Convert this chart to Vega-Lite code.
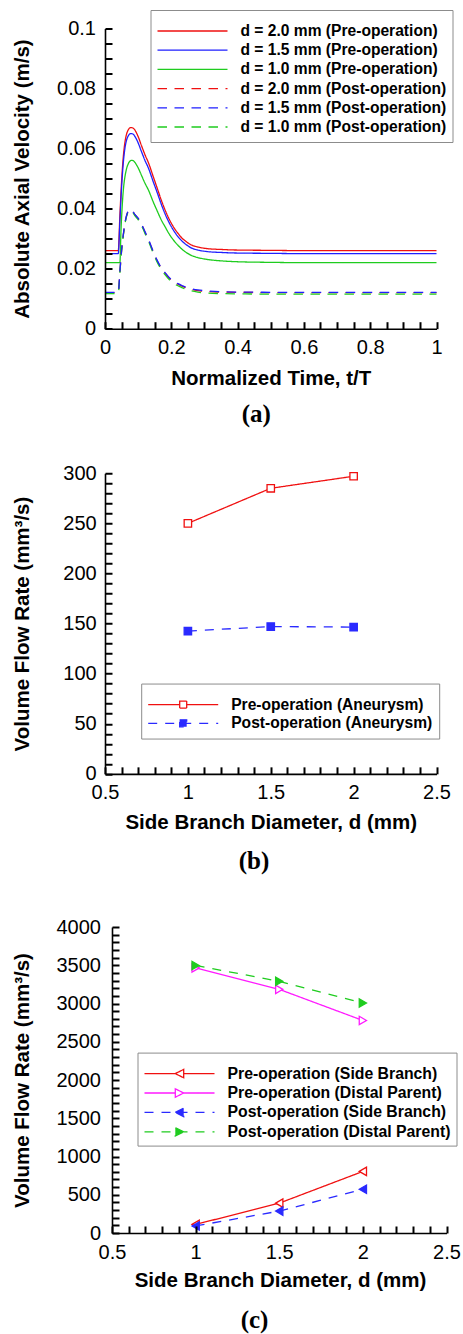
{
"$schema": "https://vega.github.io/schema/vega-lite/v6.json",
"padding": {"left": 12, "top": 9.5, "right": 0, "bottom": 0},
"spacing": 36.75,
"resolve": {"scale": {"stroke": "independent", "strokeDash": "independent", "shape": "independent", "fill": "independent"}, "legend": {"stroke": "independent", "strokeDash": "independent", "shape": "independent", "fill": "independent"}},
"config": {
 "view": {"stroke": null},
 "axis": {"domainColor": "black", "domainWidth": 1.6, "labelFont": "Liberation Sans", "labelFontSize": 20, "labelColor": "black", "titleFont": "Liberation Sans", "titleFontSize": 20.5, "titleFontWeight": "bold", "titleColor": "black", "grid": false, "labelFlush": false, "labelOverlap": false},
 "legend": {"orient": "none", "labelFont": "Liberation Sans", "labelFontWeight": "bold", "labelColor": "black", "strokeColor": "#8c8c8c", "fillColor": "white", "padding": 6, "symbolSize": 4900, "symbolStrokeWidth": 1.3, "labelOffset": 12, "clipHeight": 12, "titleFontSize": 4, "titlePadding": 5, "labelLimit": 500},
 "title": {"font": "Liberation Serif", "fontSize": 25, "fontWeight": "bold", "color": "black", "orient": "bottom", "frame": "group", "anchor": "middle"}
},
"vconcat": [
{
 "width": 331.5, "height": 300.2,
 "title": {"text": "(a)", "dx": -14.5, "offset": 12.5},
 "data": {"values": [
{"t":0,"v":0.026,"s":"d = 2.0 mm (Pre-operation)"},{"t":0.04,"v":0.026,"s":"d = 2.0 mm (Pre-operation)"},{"t":0.045,"v":0.038,"s":"d = 2.0 mm (Pre-operation)"},{"t":0.05,"v":0.049,"s":"d = 2.0 mm (Pre-operation)"},{"t":0.055,"v":0.057,"s":"d = 2.0 mm (Pre-operation)"},{"t":0.06,"v":0.062,"s":"d = 2.0 mm (Pre-operation)"},{"t":0.065,"v":0.0648,"s":"d = 2.0 mm (Pre-operation)"},{"t":0.07,"v":0.0662,"s":"d = 2.0 mm (Pre-operation)"},{"t":0.075,"v":0.0669,"s":"d = 2.0 mm (Pre-operation)"},{"t":0.08,"v":0.067,"s":"d = 2.0 mm (Pre-operation)"},{"t":0.085,"v":0.0668,"s":"d = 2.0 mm (Pre-operation)"},{"t":0.09,"v":0.0662,"s":"d = 2.0 mm (Pre-operation)"},{"t":0.1,"v":0.064,"s":"d = 2.0 mm (Pre-operation)"},{"t":0.11,"v":0.061,"s":"d = 2.0 mm (Pre-operation)"},{"t":0.12,"v":0.0581,"s":"d = 2.0 mm (Pre-operation)"},{"t":0.131,"v":0.0553,"s":"d = 2.0 mm (Pre-operation)"},{"t":0.146,"v":0.0505,"s":"d = 2.0 mm (Pre-operation)"},{"t":0.156,"v":0.0473,"s":"d = 2.0 mm (Pre-operation)"},{"t":0.17,"v":0.0428,"s":"d = 2.0 mm (Pre-operation)"},{"t":0.181,"v":0.0396,"s":"d = 2.0 mm (Pre-operation)"},{"t":0.195,"v":0.0362,"s":"d = 2.0 mm (Pre-operation)"},{"t":0.206,"v":0.034,"s":"d = 2.0 mm (Pre-operation)"},{"t":0.22,"v":0.0318,"s":"d = 2.0 mm (Pre-operation)"},{"t":0.232,"v":0.0302,"s":"d = 2.0 mm (Pre-operation)"},{"t":0.245,"v":0.029,"s":"d = 2.0 mm (Pre-operation)"},{"t":0.257,"v":0.0281,"s":"d = 2.0 mm (Pre-operation)"},{"t":0.28,"v":0.0272,"s":"d = 2.0 mm (Pre-operation)"},{"t":0.307,"v":0.0267,"s":"d = 2.0 mm (Pre-operation)"},{"t":0.35,"v":0.0264,"s":"d = 2.0 mm (Pre-operation)"},{"t":0.4,"v":0.0262,"s":"d = 2.0 mm (Pre-operation)"},{"t":0.5,"v":0.0261,"s":"d = 2.0 mm (Pre-operation)"},{"t":0.6,"v":0.026,"s":"d = 2.0 mm (Pre-operation)"},{"t":0.8,"v":0.026,"s":"d = 2.0 mm (Pre-operation)"},{"t":1,"v":0.026,"s":"d = 2.0 mm (Pre-operation)"},
{"t":0,"v":0.025,"s":"d = 1.5 mm (Pre-operation)"},{"t":0.04,"v":0.025,"s":"d = 1.5 mm (Pre-operation)"},{"t":0.045,"v":0.036,"s":"d = 1.5 mm (Pre-operation)"},{"t":0.05,"v":0.047,"s":"d = 1.5 mm (Pre-operation)"},{"t":0.055,"v":0.055,"s":"d = 1.5 mm (Pre-operation)"},{"t":0.06,"v":0.06,"s":"d = 1.5 mm (Pre-operation)"},{"t":0.065,"v":0.0628,"s":"d = 1.5 mm (Pre-operation)"},{"t":0.07,"v":0.0642,"s":"d = 1.5 mm (Pre-operation)"},{"t":0.075,"v":0.0649,"s":"d = 1.5 mm (Pre-operation)"},{"t":0.08,"v":0.065,"s":"d = 1.5 mm (Pre-operation)"},{"t":0.085,"v":0.0648,"s":"d = 1.5 mm (Pre-operation)"},{"t":0.09,"v":0.0641,"s":"d = 1.5 mm (Pre-operation)"},{"t":0.1,"v":0.0619,"s":"d = 1.5 mm (Pre-operation)"},{"t":0.11,"v":0.059,"s":"d = 1.5 mm (Pre-operation)"},{"t":0.12,"v":0.0562,"s":"d = 1.5 mm (Pre-operation)"},{"t":0.131,"v":0.0535,"s":"d = 1.5 mm (Pre-operation)"},{"t":0.146,"v":0.0488,"s":"d = 1.5 mm (Pre-operation)"},{"t":0.156,"v":0.0458,"s":"d = 1.5 mm (Pre-operation)"},{"t":0.17,"v":0.0414,"s":"d = 1.5 mm (Pre-operation)"},{"t":0.181,"v":0.0383,"s":"d = 1.5 mm (Pre-operation)"},{"t":0.195,"v":0.035,"s":"d = 1.5 mm (Pre-operation)"},{"t":0.206,"v":0.0329,"s":"d = 1.5 mm (Pre-operation)"},{"t":0.22,"v":0.0307,"s":"d = 1.5 mm (Pre-operation)"},{"t":0.232,"v":0.0292,"s":"d = 1.5 mm (Pre-operation)"},{"t":0.245,"v":0.028,"s":"d = 1.5 mm (Pre-operation)"},{"t":0.257,"v":0.0271,"s":"d = 1.5 mm (Pre-operation)"},{"t":0.28,"v":0.0262,"s":"d = 1.5 mm (Pre-operation)"},{"t":0.307,"v":0.0257,"s":"d = 1.5 mm (Pre-operation)"},{"t":0.35,"v":0.0254,"s":"d = 1.5 mm (Pre-operation)"},{"t":0.4,"v":0.0252,"s":"d = 1.5 mm (Pre-operation)"},{"t":0.5,"v":0.0251,"s":"d = 1.5 mm (Pre-operation)"},{"t":0.6,"v":0.025,"s":"d = 1.5 mm (Pre-operation)"},{"t":0.8,"v":0.025,"s":"d = 1.5 mm (Pre-operation)"},{"t":1,"v":0.025,"s":"d = 1.5 mm (Pre-operation)"},
{"t":0,"v":0.022,"s":"d = 1.0 mm (Pre-operation)"},{"t":0.045,"v":0.022,"s":"d = 1.0 mm (Pre-operation)"},{"t":0.048,"v":0.032,"s":"d = 1.0 mm (Pre-operation)"},{"t":0.052,"v":0.041,"s":"d = 1.0 mm (Pre-operation)"},{"t":0.056,"v":0.047,"s":"d = 1.0 mm (Pre-operation)"},{"t":0.06,"v":0.0505,"s":"d = 1.0 mm (Pre-operation)"},{"t":0.065,"v":0.0533,"s":"d = 1.0 mm (Pre-operation)"},{"t":0.07,"v":0.0549,"s":"d = 1.0 mm (Pre-operation)"},{"t":0.075,"v":0.0558,"s":"d = 1.0 mm (Pre-operation)"},{"t":0.08,"v":0.0561,"s":"d = 1.0 mm (Pre-operation)"},{"t":0.085,"v":0.056,"s":"d = 1.0 mm (Pre-operation)"},{"t":0.09,"v":0.0554,"s":"d = 1.0 mm (Pre-operation)"},{"t":0.1,"v":0.0536,"s":"d = 1.0 mm (Pre-operation)"},{"t":0.11,"v":0.0511,"s":"d = 1.0 mm (Pre-operation)"},{"t":0.12,"v":0.0486,"s":"d = 1.0 mm (Pre-operation)"},{"t":0.131,"v":0.0462,"s":"d = 1.0 mm (Pre-operation)"},{"t":0.146,"v":0.0421,"s":"d = 1.0 mm (Pre-operation)"},{"t":0.156,"v":0.0396,"s":"d = 1.0 mm (Pre-operation)"},{"t":0.17,"v":0.0362,"s":"d = 1.0 mm (Pre-operation)"},{"t":0.181,"v":0.034,"s":"d = 1.0 mm (Pre-operation)"},{"t":0.195,"v":0.0313,"s":"d = 1.0 mm (Pre-operation)"},{"t":0.206,"v":0.0296,"s":"d = 1.0 mm (Pre-operation)"},{"t":0.22,"v":0.0278,"s":"d = 1.0 mm (Pre-operation)"},{"t":0.232,"v":0.0265,"s":"d = 1.0 mm (Pre-operation)"},{"t":0.245,"v":0.0254,"s":"d = 1.0 mm (Pre-operation)"},{"t":0.257,"v":0.0246,"s":"d = 1.0 mm (Pre-operation)"},{"t":0.28,"v":0.0237,"s":"d = 1.0 mm (Pre-operation)"},{"t":0.307,"v":0.0231,"s":"d = 1.0 mm (Pre-operation)"},{"t":0.35,"v":0.0226,"s":"d = 1.0 mm (Pre-operation)"},{"t":0.4,"v":0.0223,"s":"d = 1.0 mm (Pre-operation)"},{"t":0.5,"v":0.0221,"s":"d = 1.0 mm (Pre-operation)"},{"t":0.6,"v":0.022,"s":"d = 1.0 mm (Pre-operation)"},{"t":0.8,"v":0.022,"s":"d = 1.0 mm (Pre-operation)"},{"t":1,"v":0.022,"s":"d = 1.0 mm (Pre-operation)"},
{"t":0,"v":0.012,"s":"d = 2.0 mm (Post-operation)"},{"t":0.04,"v":0.012,"s":"d = 2.0 mm (Post-operation)"},{"t":0.045,"v":0.019,"s":"d = 2.0 mm (Post-operation)"},{"t":0.05,"v":0.026,"s":"d = 2.0 mm (Post-operation)"},{"t":0.055,"v":0.031,"s":"d = 2.0 mm (Post-operation)"},{"t":0.06,"v":0.035,"s":"d = 2.0 mm (Post-operation)"},{"t":0.065,"v":0.0376,"s":"d = 2.0 mm (Post-operation)"},{"t":0.07,"v":0.0391,"s":"d = 2.0 mm (Post-operation)"},{"t":0.075,"v":0.0396,"s":"d = 2.0 mm (Post-operation)"},{"t":0.08,"v":0.0394,"s":"d = 2.0 mm (Post-operation)"},{"t":0.085,"v":0.0388,"s":"d = 2.0 mm (Post-operation)"},{"t":0.09,"v":0.038,"s":"d = 2.0 mm (Post-operation)"},{"t":0.1,"v":0.0367,"s":"d = 2.0 mm (Post-operation)"},{"t":0.106,"v":0.0357,"s":"d = 2.0 mm (Post-operation)"},{"t":0.115,"v":0.0336,"s":"d = 2.0 mm (Post-operation)"},{"t":0.122,"v":0.0318,"s":"d = 2.0 mm (Post-operation)"},{"t":0.131,"v":0.0296,"s":"d = 2.0 mm (Post-operation)"},{"t":0.146,"v":0.0254,"s":"d = 2.0 mm (Post-operation)"},{"t":0.156,"v":0.0229,"s":"d = 2.0 mm (Post-operation)"},{"t":0.17,"v":0.0201,"s":"d = 2.0 mm (Post-operation)"},{"t":0.181,"v":0.0185,"s":"d = 2.0 mm (Post-operation)"},{"t":0.195,"v":0.0167,"s":"d = 2.0 mm (Post-operation)"},{"t":0.206,"v":0.0157,"s":"d = 2.0 mm (Post-operation)"},{"t":0.22,"v":0.0148,"s":"d = 2.0 mm (Post-operation)"},{"t":0.232,"v":0.0142,"s":"d = 2.0 mm (Post-operation)"},{"t":0.245,"v":0.0136,"s":"d = 2.0 mm (Post-operation)"},{"t":0.257,"v":0.0132,"s":"d = 2.0 mm (Post-operation)"},{"t":0.28,"v":0.0127,"s":"d = 2.0 mm (Post-operation)"},{"t":0.307,"v":0.0124,"s":"d = 2.0 mm (Post-operation)"},{"t":0.35,"v":0.0122,"s":"d = 2.0 mm (Post-operation)"},{"t":0.4,"v":0.0121,"s":"d = 2.0 mm (Post-operation)"},{"t":0.6,"v":0.012,"s":"d = 2.0 mm (Post-operation)"},{"t":1,"v":0.012,"s":"d = 2.0 mm (Post-operation)"},
{"t":0,"v":0.0117,"s":"d = 1.0 mm (Post-operation)"},{"t":0.04,"v":0.0117,"s":"d = 1.0 mm (Post-operation)"},{"t":0.045,"v":0.0188,"s":"d = 1.0 mm (Post-operation)"},{"t":0.05,"v":0.0258,"s":"d = 1.0 mm (Post-operation)"},{"t":0.055,"v":0.0308,"s":"d = 1.0 mm (Post-operation)"},{"t":0.06,"v":0.0348,"s":"d = 1.0 mm (Post-operation)"},{"t":0.065,"v":0.0374,"s":"d = 1.0 mm (Post-operation)"},{"t":0.07,"v":0.0389,"s":"d = 1.0 mm (Post-operation)"},{"t":0.075,"v":0.0394,"s":"d = 1.0 mm (Post-operation)"},{"t":0.08,"v":0.0392,"s":"d = 1.0 mm (Post-operation)"},{"t":0.085,"v":0.0386,"s":"d = 1.0 mm (Post-operation)"},{"t":0.09,"v":0.0377,"s":"d = 1.0 mm (Post-operation)"},{"t":0.1,"v":0.0363,"s":"d = 1.0 mm (Post-operation)"},{"t":0.106,"v":0.0353,"s":"d = 1.0 mm (Post-operation)"},{"t":0.115,"v":0.0332,"s":"d = 1.0 mm (Post-operation)"},{"t":0.122,"v":0.0314,"s":"d = 1.0 mm (Post-operation)"},{"t":0.131,"v":0.0292,"s":"d = 1.0 mm (Post-operation)"},{"t":0.146,"v":0.025,"s":"d = 1.0 mm (Post-operation)"},{"t":0.156,"v":0.0225,"s":"d = 1.0 mm (Post-operation)"},{"t":0.17,"v":0.0197,"s":"d = 1.0 mm (Post-operation)"},{"t":0.181,"v":0.018,"s":"d = 1.0 mm (Post-operation)"},{"t":0.195,"v":0.0162,"s":"d = 1.0 mm (Post-operation)"},{"t":0.206,"v":0.0152,"s":"d = 1.0 mm (Post-operation)"},{"t":0.22,"v":0.0143,"s":"d = 1.0 mm (Post-operation)"},{"t":0.232,"v":0.0137,"s":"d = 1.0 mm (Post-operation)"},{"t":0.245,"v":0.0131,"s":"d = 1.0 mm (Post-operation)"},{"t":0.257,"v":0.0127,"s":"d = 1.0 mm (Post-operation)"},{"t":0.28,"v":0.0122,"s":"d = 1.0 mm (Post-operation)"},{"t":0.307,"v":0.0119,"s":"d = 1.0 mm (Post-operation)"},{"t":0.35,"v":0.0117,"s":"d = 1.0 mm (Post-operation)"},{"t":0.4,"v":0.0116,"s":"d = 1.0 mm (Post-operation)"},{"t":0.6,"v":0.0115,"s":"d = 1.0 mm (Post-operation)"},{"t":1,"v":0.0115,"s":"d = 1.0 mm (Post-operation)"},
{"t":0,"v":0.0121,"s":"d = 1.5 mm (Post-operation)"},{"t":0.04,"v":0.0121,"s":"d = 1.5 mm (Post-operation)"},{"t":0.045,"v":0.0192,"s":"d = 1.5 mm (Post-operation)"},{"t":0.05,"v":0.0262,"s":"d = 1.5 mm (Post-operation)"},{"t":0.055,"v":0.0312,"s":"d = 1.5 mm (Post-operation)"},{"t":0.06,"v":0.0351,"s":"d = 1.5 mm (Post-operation)"},{"t":0.065,"v":0.0377,"s":"d = 1.5 mm (Post-operation)"},{"t":0.07,"v":0.0392,"s":"d = 1.5 mm (Post-operation)"},{"t":0.075,"v":0.0397,"s":"d = 1.5 mm (Post-operation)"},{"t":0.08,"v":0.0395,"s":"d = 1.5 mm (Post-operation)"},{"t":0.085,"v":0.0389,"s":"d = 1.5 mm (Post-operation)"},{"t":0.09,"v":0.0381,"s":"d = 1.5 mm (Post-operation)"},{"t":0.1,"v":0.0368,"s":"d = 1.5 mm (Post-operation)"},{"t":0.106,"v":0.0358,"s":"d = 1.5 mm (Post-operation)"},{"t":0.115,"v":0.0337,"s":"d = 1.5 mm (Post-operation)"},{"t":0.122,"v":0.032,"s":"d = 1.5 mm (Post-operation)"},{"t":0.131,"v":0.0298,"s":"d = 1.5 mm (Post-operation)"},{"t":0.146,"v":0.0256,"s":"d = 1.5 mm (Post-operation)"},{"t":0.156,"v":0.0231,"s":"d = 1.5 mm (Post-operation)"},{"t":0.17,"v":0.0203,"s":"d = 1.5 mm (Post-operation)"},{"t":0.181,"v":0.0187,"s":"d = 1.5 mm (Post-operation)"},{"t":0.195,"v":0.0169,"s":"d = 1.5 mm (Post-operation)"},{"t":0.206,"v":0.0159,"s":"d = 1.5 mm (Post-operation)"},{"t":0.22,"v":0.015,"s":"d = 1.5 mm (Post-operation)"},{"t":0.232,"v":0.0144,"s":"d = 1.5 mm (Post-operation)"},{"t":0.245,"v":0.0138,"s":"d = 1.5 mm (Post-operation)"},{"t":0.257,"v":0.0134,"s":"d = 1.5 mm (Post-operation)"},{"t":0.28,"v":0.0129,"s":"d = 1.5 mm (Post-operation)"},{"t":0.307,"v":0.0126,"s":"d = 1.5 mm (Post-operation)"},{"t":0.35,"v":0.0123,"s":"d = 1.5 mm (Post-operation)"},{"t":0.4,"v":0.0122,"s":"d = 1.5 mm (Post-operation)"},{"t":0.6,"v":0.0121,"s":"d = 1.5 mm (Post-operation)"},{"t":1,"v":0.0121,"s":"d = 1.5 mm (Post-operation)"}
 ]},
 "mark": {"type": "line", "strokeWidth": 1.3, "interpolate": "monotone"},
 "encoding": {
  "x": {"field": "t", "type": "quantitative", "scale": {"domain": [0, 1], "nice": false, "zero": false},
   "axis": {"values": [0,0.05,0.1,0.15,0.2,0.25,0.3,0.35,0.4,0.45,0.5,0.55,0.6,0.65,0.7,0.75,0.8,0.85,0.9,0.95,1],
    "labelExpr": "abs(datum.value*5-round(datum.value*5))<0.001 ? format(datum.value,'~g') : ''",
    "ticks": true, "tickSize": -7, "tickColor": "#000000", "tickWidth": 2, "zindex": 1,
    "labelPadding": 16.1, "title": "Normalized Time, t/T", "titlePadding": 10.7}},
  "y": {"field": "v", "type": "quantitative", "scale": {"domain": [0, 0.1], "nice": false},
   "axis": {"values": [0,0.005,0.01,0.015,0.02,0.025,0.03,0.035,0.04,0.045,0.05,0.055,0.06,0.065,0.07,0.075,0.08,0.085,0.09,0.095,0.1],
    "labelExpr": "abs(datum.value*50-round(datum.value*50))<0.001 ? format(datum.value,'~g') : ''",
    "ticks": true, "tickSize": -7, "tickColor": "#000000", "tickWidth": 2, "zindex": 1,
    "labelPadding": 16.5, "title": "Absolute Axial Velocity (m/s)", "titleX": -92.5, "titleY": 150.1, "titleAngle": 270, "titleBaseline": "top", "titleAlign": "center"}},
  "stroke": {"field": "s", "type": "nominal",
   "scale": {"domain": ["d = 2.0 mm (Pre-operation)","d = 1.5 mm (Pre-operation)","d = 1.0 mm (Pre-operation)","d = 2.0 mm (Post-operation)","d = 1.5 mm (Post-operation)","d = 1.0 mm (Post-operation)"],
    "range": ["#f01010","#1f1fff","#1fcc1f","#f01010","#1f1fff","#1fcc1f"]},
   "legend": {"title": " ", "legendX": 45.5, "legendY": -18.5, "labelFontSize": 15.6, "rowPadding": 3.2, "symbolType": "stroke"}},
  "strokeDash": {"field": "s", "type": "nominal",
   "scale": {"domain": ["d = 2.0 mm (Pre-operation)","d = 1.5 mm (Pre-operation)","d = 1.0 mm (Pre-operation)","d = 2.0 mm (Post-operation)","d = 1.5 mm (Post-operation)","d = 1.0 mm (Post-operation)"],
    "range": [[1,0],[1,0],[1,0],[9.5,7.5],[9.5,7.5],[9.5,7.5]]},
   "legend": {"title": " ", "legendX": 45.5, "legendY": -18.5, "labelFontSize": 15.6, "rowPadding": 3.2, "symbolType": "stroke"}}
 }
},
{
 "width": 331.5, "height": 300.6,
 "title": {"text": "(b)", "dx": -16.75, "offset": 15.6, "subtitle": " ", "subtitleFontSize": 1, "subtitlePadding": 5},
 "data": {"values": [
  {"d": 1, "q": 250, "s": "Pre-operation (Aneurysm)"},
  {"d": 1.5, "q": 285, "s": "Pre-operation (Aneurysm)"},
  {"d": 2, "q": 297, "s": "Pre-operation (Aneurysm)"},
  {"d": 1, "q": 142.5, "s": "Post-operation (Aneurysm)"},
  {"d": 1.5, "q": 147, "s": "Post-operation (Aneurysm)"},
  {"d": 2, "q": 146.5, "s": "Post-operation (Aneurysm)"}
 ]},
 "encoding": {
  "x": {"field": "d", "type": "quantitative", "scale": {"domain": [0.5, 2.5], "nice": false, "zero": false},
   "axis": {"values": [0.5,0.6,0.7,0.8,0.9,1,1.1,1.2,1.3,1.4,1.5,1.6,1.7,1.8,1.9,2,2.1,2.2,2.3,2.4,2.5],
    "labelExpr": "abs(datum.value*2-round(datum.value*2))<0.001 ? format(datum.value,'~g') : ''",
    "ticks": true, "tickSize": -7, "tickColor": "#000000", "tickWidth": 2, "zindex": 1,
    "labelPadding": 15.5, "title": "Side Branch Diameter, d (mm)", "titlePadding": 10.6}},
  "y": {"field": "q", "type": "quantitative", "scale": {"domain": [0, 300], "nice": false},
   "axis": {"values": [0,10,20,30,40,50,60,70,80,90,100,110,120,130,140,150,160,170,180,190,200,210,220,230,240,250,260,270,280,290,300],
    "labelExpr": "datum.value % 50 == 0 ? format(datum.value,'~g') : ''",
    "ticks": true, "tickSize": -7, "tickColor": "#000000", "tickWidth": 2, "zindex": 1,
    "labelPadding": 15.8, "title": "Volume Flow Rate (mm³/s)", "titleX": -92.5, "titleY": 150.3, "titleAngle": 270, "titleBaseline": "top", "titleAlign": "center"}},
  "stroke": {"field": "s", "type": "nominal",
   "scale": {"domain": ["Pre-operation (Aneurysm)", "Post-operation (Aneurysm)"], "range": ["#f01010", "#2a2aff"]},
   "legend": {"title": " ", "legendX": 36.2, "legendY": 210.3, "labelFontSize": 15.6, "rowPadding": 2.8}}
 },
 "layer": [
  {"mark": {"type": "line", "strokeWidth": 1.3},
   "encoding": {"strokeDash": {"field": "s", "type": "nominal",
    "scale": {"domain": ["Pre-operation (Aneurysm)", "Post-operation (Aneurysm)"], "range": [[1,0],[9,8]]},
    "legend": {"title": " ", "legendX": 36.2, "legendY": 210.3, "labelFontSize": 15.6, "rowPadding": 2.8}}}},
  {"mark": {"type": "point", "size": 55, "strokeWidth": 1.3, "opacity": 1, "shape": "square"},
   "encoding": {
    "fill": {"field": "s", "type": "nominal", "scale": {"domain": ["Pre-operation (Aneurysm)", "Post-operation (Aneurysm)"], "range": ["white", "#2a2aff"]},
     "legend": {"title": " ", "legendX": 36.2, "legendY": 210.3, "labelFontSize": 15.6, "rowPadding": 2.8}}}},
  {"transform": [{"filter": "false"}],
   "mark": {"type": "point", "strokeWidth": 1.3, "opacity": 1},
   "encoding": {
    "shape": {"field": "s", "type": "nominal", "scale": {"domain": ["Pre-operation (Aneurysm)", "Post-operation (Aneurysm)"],
     "range": ["M-1,0L-0.1,0M0.1,0L1,0M-0.1,-0.1L0.1,-0.1L0.1,0.1L-0.1,0.1Z", "M-1,0L1,0M-0.1,-0.1L0.1,-0.1L0.1,0.1L-0.1,0.1Z"]},
     "legend": {"title": " ", "legendX": 36.2, "legendY": 210.3, "labelFontSize": 15.6, "rowPadding": 2.8}},
    "fill": {"field": "s", "type": "nominal", "scale": {"domain": ["Pre-operation (Aneurysm)", "Post-operation (Aneurysm)"], "range": ["white", "#2a2aff"]},
     "legend": {"title": " ", "legendX": 36.2, "legendY": 210.3, "labelFontSize": 15.6, "rowPadding": 2.8}}}}
 ]
},
{
 "width": 341.5, "height": 306,
 "title": {"text": "(c)", "dx": -21.25, "offset": 16.2},
 "data": {"values": [
  {"d": 1, "q": 112, "s": "Pre-operation (Side Branch)"},
  {"d": 1.5, "q": 390, "s": "Pre-operation (Side Branch)"},
  {"d": 2, "q": 805, "s": "Pre-operation (Side Branch)"},
  {"d": 1, "q": 3465, "s": "Pre-operation (Distal Parent)"},
  {"d": 1.5, "q": 3185, "s": "Pre-operation (Distal Parent)"},
  {"d": 2, "q": 2778, "s": "Pre-operation (Distal Parent)"},
  {"d": 1, "q": 92, "s": "Post-operation (Side Branch)"},
  {"d": 1.5, "q": 286, "s": "Post-operation (Side Branch)"},
  {"d": 2, "q": 572, "s": "Post-operation (Side Branch)"},
  {"d": 1, "q": 3497, "s": "Post-operation (Distal Parent)"},
  {"d": 1.5, "q": 3290, "s": "Post-operation (Distal Parent)"},
  {"d": 2, "q": 3006, "s": "Post-operation (Distal Parent)"}
 ]},
 "encoding": {
  "x": {"field": "d", "type": "quantitative", "scale": {"domain": [0.5, 2.5], "range": [7, 341.5], "nice": false, "zero": false},
   "axis": {"values": [0.5,0.6,0.7,0.8,0.9,1,1.1,1.2,1.3,1.4,1.5,1.6,1.7,1.8,1.9,2,2.1,2.2,2.3,2.4,2.5],
    "labelExpr": "abs(datum.value*2-round(datum.value*2))<0.001 ? format(datum.value,'~g') : ''",
    "ticks": true, "tickSize": -7, "tickColor": "#000000", "tickWidth": 2, "zindex": 1,
    "labelPadding": 16.8, "title": "Side Branch Diameter, d (mm)", "titlePadding": 8.1, "titleX": 175}},
  "y": {"field": "q", "type": "quantitative", "scale": {"domain": [0, 4000], "nice": false},
   "axis": {"values": [0,100,200,300,400,500,600,700,800,900,1000,1100,1200,1300,1400,1500,1600,1700,1800,1900,2000,2100,2200,2300,2400,2500,2600,2700,2800,2900,3000,3100,3200,3300,3400,3500,3600,3700,3800,3900,4000],
    "labelExpr": "datum.value % 500 == 0 ? format(datum.value,'~g') : ''",
    "ticks": true, "tickSize": -7, "tickColor": "#000000", "tickWidth": 2, "zindex": 1,
    "offset": -7,
    "labelPadding": 18.5, "title": "Volume Flow Rate (mm³/s)", "titleX": -99.5, "titleY": 153, "titleAngle": 270, "titleBaseline": "top", "titleAlign": "center"}},
  "stroke": {"field": "s", "type": "nominal",
   "scale": {"domain": ["Pre-operation (Side Branch)", "Pre-operation (Distal Parent)", "Post-operation (Side Branch)", "Post-operation (Distal Parent)"], "range": ["#f01010", "#ff1aff", "#2a2aff", "#1fcc1f"]},
   "legend": {"title": " ", "legendX": 32.5, "legendY": 125.6, "labelFontSize": 15.8, "rowPadding": 3.4}}
 },
 "layer": [
  {"mark": {"type": "line", "strokeWidth": 1.3},
   "encoding": {"strokeDash": {"field": "s", "type": "nominal",
    "scale": {"domain": ["Pre-operation (Side Branch)", "Pre-operation (Distal Parent)", "Post-operation (Side Branch)", "Post-operation (Distal Parent)"], "range": [[1,0],[1,0],[9,8],[9,8]]},
    "legend": {"title": " ", "legendX": 32.5, "legendY": 125.6, "labelFontSize": 15.8, "rowPadding": 3.4}}}},
  {"transform": [{"filter": "indexof(datum.s, 'Side Branch') >= 0"}],
   "mark": {"type": "point", "size": 70, "strokeWidth": 1.3, "opacity": 1, "shape": "triangle-left"},
   "encoding": {
    "fill": {"field": "s", "type": "nominal", "scale": {"domain": ["Pre-operation (Side Branch)", "Pre-operation (Distal Parent)", "Post-operation (Side Branch)", "Post-operation (Distal Parent)"], "range": ["white", "white", "#2a2aff", "#1fcc1f"]},
     "legend": {"title": " ", "legendX": 32.5, "legendY": 125.6, "labelFontSize": 15.8, "rowPadding": 3.4}}}},
  {"transform": [{"filter": "indexof(datum.s, 'Distal Parent') >= 0"}],
   "mark": {"type": "point", "size": 70, "strokeWidth": 1.3, "opacity": 1, "shape": "triangle-right"},
   "encoding": {
    "fill": {"field": "s", "type": "nominal", "scale": {"domain": ["Pre-operation (Side Branch)", "Pre-operation (Distal Parent)", "Post-operation (Side Branch)", "Post-operation (Distal Parent)"], "range": ["white", "white", "#2a2aff", "#1fcc1f"]},
     "legend": {"title": " ", "legendX": 32.5, "legendY": 125.6, "labelFontSize": 15.8, "rowPadding": 3.4}}}},
  {"transform": [{"filter": "false"}],
   "mark": {"type": "point", "strokeWidth": 1.3, "opacity": 1},
   "encoding": {
    "shape": {"field": "s", "type": "nominal", "scale": {"domain": ["Pre-operation (Side Branch)", "Pre-operation (Distal Parent)", "Post-operation (Side Branch)", "Post-operation (Distal Parent)"],
     "range": ["M-1,0L-0.12,0M0.12,0L1,0M-0.12,0L0.12,-0.12L0.12,0.12Z", "M-1,0L-0.12,0M0.12,0L1,0M0.12,0L-0.12,-0.12L-0.12,0.12Z", "M-1,0L1,0M-0.12,0L0.12,-0.12L0.12,0.12Z", "M-1,0L1,0M0.12,0L-0.12,-0.12L-0.12,0.12Z"]},
     "legend": {"title": " ", "legendX": 32.5, "legendY": 125.6, "labelFontSize": 15.8, "rowPadding": 3.4}},
    "fill": {"field": "s", "type": "nominal", "scale": {"domain": ["Pre-operation (Side Branch)", "Pre-operation (Distal Parent)", "Post-operation (Side Branch)", "Post-operation (Distal Parent)"], "range": ["white", "white", "#2a2aff", "#1fcc1f"]},
     "legend": {"title": " ", "legendX": 32.5, "legendY": 125.6, "labelFontSize": 15.8, "rowPadding": 3.4}}}}
 ]
}
]
}
